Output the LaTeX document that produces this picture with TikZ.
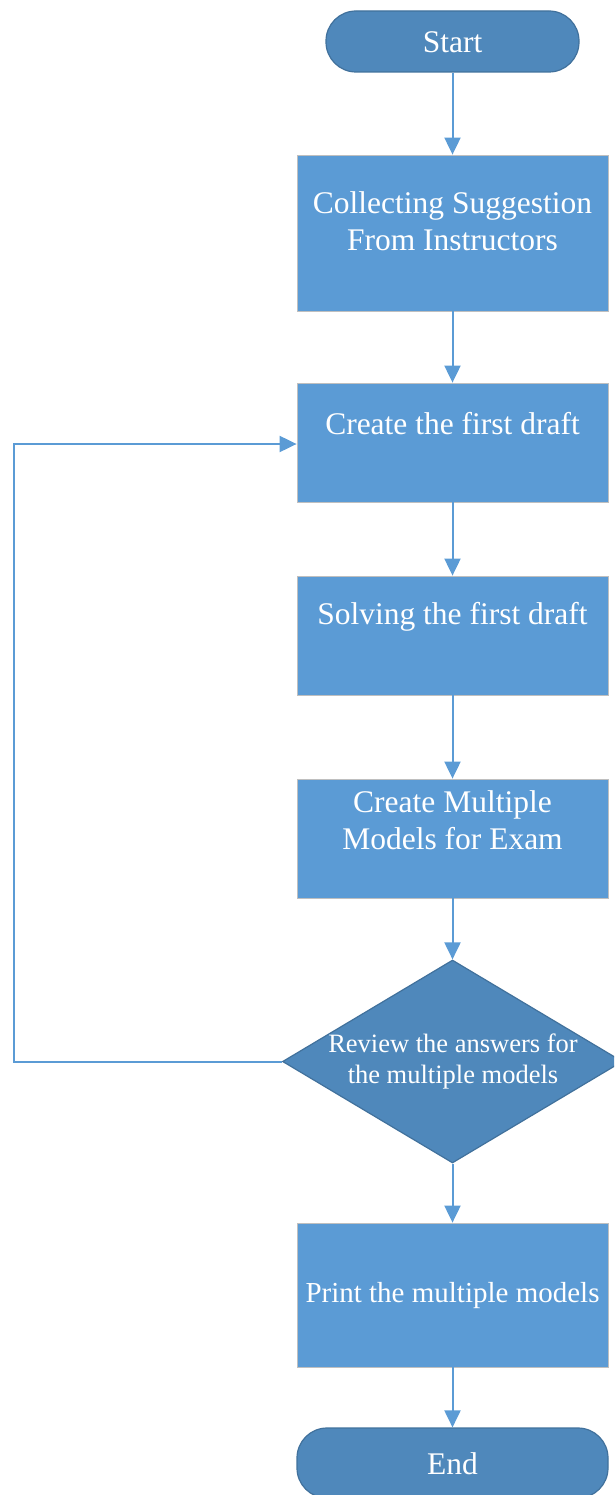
\documentclass[tikz,border=0pt]{standalone}
\usepackage{fontspec}
\setmainfont{Liberation Serif}
\usetikzlibrary{shapes.geometric,arrows.meta}
\definecolor{termfill}{RGB}{79,136,187}
\definecolor{termdraw}{RGB}{65,113,156}
\definecolor{boxfill}{RGB}{91,155,213}
\definecolor{boxdraw}{RGB}{191,191,191}
\definecolor{arrowc}{RGB}{91,155,213}
\begin{document}
\begin{tikzpicture}[x=1pt,y=-1pt,
  term/.style={draw=termdraw,fill=termfill,line width=1.2pt,rounded corners=30pt,inner sep=0pt},
  stepbox/.style={draw=boxdraw,fill=boxfill,line width=0.8pt,minimum width=311pt,inner sep=0pt},
  decision/.style={diamond,draw=termdraw,fill=termfill,line width=1.2pt,minimum width=340pt,minimum height=203pt,inner sep=0pt},
  txt/.style={text=white,align=center,font=\fontsize{31.5}{37}\selectfont,inner sep=0pt},
  conn/.style={draw=arrowc,line width=2pt,-{Triangle[length=17pt,width=16pt]}}]
\useasboundingbox (0,0) rectangle (614,1495);
\clip (0,0) rectangle (614,1495);
\node[term,minimum width=253pt,minimum height=61pt] (start) at (452.5,41.5) {};
\node[stepbox,minimum height=156pt] (b1) at (452.5,233) {};
\node[stepbox,minimum height=119pt] (b2) at (452.5,442.5) {};
\node[stepbox,minimum height=119pt] (b3) at (452.5,635.5) {};
\node[stepbox,minimum height=119pt] (b4) at (452.5,838.5) {};
\node[decision] (d) at (452.5,1061.5) {};
\node[stepbox,minimum height=144pt] (b5) at (452.5,1295) {};
\node[term,minimum width=311pt,minimum height=70pt] (end) at (452.5,1463) {};
\node[txt] (tstart) at (452.5,42) {Start};
\node[txt] (t1) at (452.5,221) {Collecting Suggestion\\From Instructors};
\node[txt] (t2) at (452.5,424) {Create the first draft};
\node[txt] (t3) at (452.5,617) {Solving the first draft};
\node[txt] (t4) at (452.5,820) {Create Multiple\\Models for Exam};
\node[txt,font=\fontsize{26.5}{31}\selectfont] (td) at (453,1061) {Review the answers for\\the multiple models};
\node[txt,font=\fontsize{29}{34}\selectfont] (t5) at (452.5,1296) {Print the multiple models};
\node[txt] (tend) at (452.5,1464) {End};
\coordinate (lc) at (14,1061.5);
\draw[conn] (start) -- (b1);
\draw[conn] (b1) -- (b2);
\draw[conn] (b2) -- (b3);
\draw[conn] (b3) -- (b4);
\draw[conn] (b4) -- (d);
\draw[conn] (d) -- (b5);
\draw[conn] (b5) -- (end);
\draw[conn] (d.west) -- (lc) |- ([yshift=-1.5pt]b2.west);
\end{tikzpicture}
\end{document}
